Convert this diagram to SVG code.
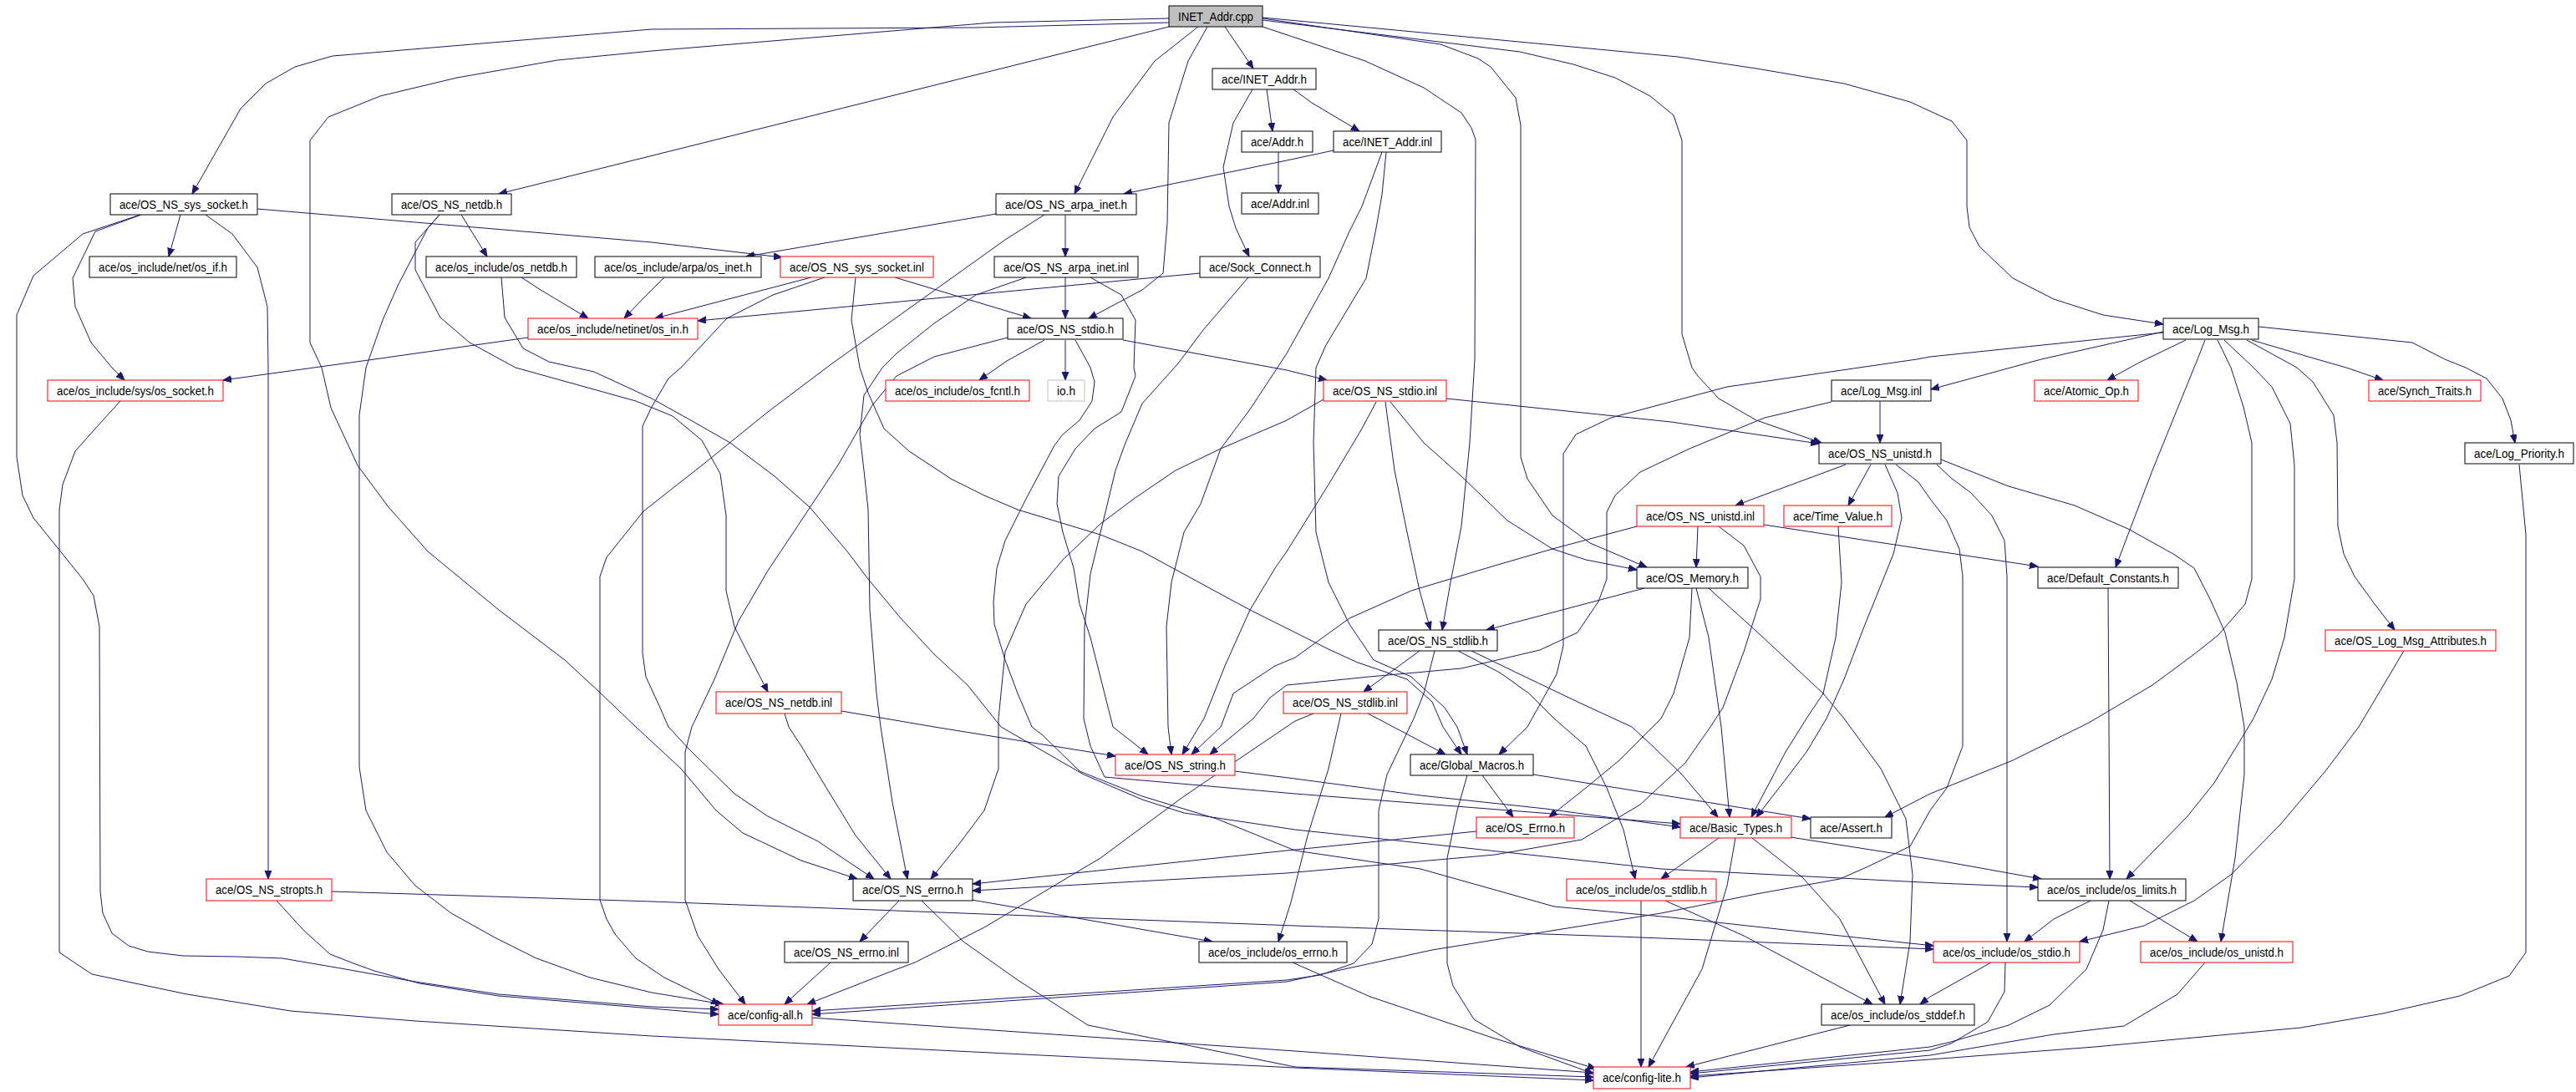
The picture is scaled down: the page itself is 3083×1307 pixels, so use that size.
<svg xmlns="http://www.w3.org/2000/svg" width="3083" height="1307" viewBox="0 0 3083 1307">
<defs>
<style>
.n rect{fill:#fff;stroke:#000;stroke-width:1}
.n.r rect{stroke:#f00}
.n.g rect{stroke:#bfbfbf}
.n.root rect{fill:#bfbfbf}
.n text{font-family:"Liberation Sans",Arial,sans-serif;font-size:14px;fill:#000;text-anchor:middle}
#edges path{fill:none;stroke:#191970;stroke-width:1;stroke-linejoin:round;marker-end:url(#arr)}
</style>
<marker id="arr" markerWidth="11" markerHeight="9" refX="10" refY="4" orient="auto" markerUnits="userSpaceOnUse"><path d="M0,0L10,4L0,8z" fill="#191970" stroke="#191970" stroke-width="1"/></marker>
</defs>
<rect width="3083" height="1307" fill="#fff"/>
<g id="edges">
<path d="M1466,32 L1500,82"/>
<path d="M1399,27 L1168,33 L780,35 L398,67 L353,80 L318,100 L288,130 L230,232"/>
<path d="M1399,22 L1188,27 L780,61 L667,72 L547,93 L455,115 L393,140 L371,168 L371,410 L385,440 L396,488 L428,557 L465,607 L512,660 L597,730 L676,790 L716,827 L761,870 L815,920 L857,970 L889,997 L959,1030 L1026,1052"/>
<path d="M1399,32 L597,232"/>
<path d="M1434,32 L1382,73 L1332,140 L1286,232"/>
<path d="M1445,32 L1422,73 L1399,147 L1397,267 L1392,327 L1367,347 L1303,381"/>
<path d="M1511,32 L1550,45 L1634,73 L1704,105 L1749,135 L1761,153 L1766,167 L1765,430 L1759,530 L1749,630 L1736,697 L1726,754"/>
<path d="M1511,22 L1724,53 L1769,70 L1784,80 L1814,117 L1820,150 L1820,547 L1828,573 L1858,617 L1903,650 L1971,679"/>
<path d="M1511,24 L1819,62 L1883,77 L1933,93 L1975,115 L2003,138 L2013,168 L2013,400 L2025,440 L2032,450 L2057,477 L2102,503 L2180,530"/>
<path d="M1511,21 L2008,68 L2102,82 L2207,100 L2286,122 L2336,145 L2354,168 L2354,247 L2357,272 L2369,295 L2409,333 L2458,358 L2517,377 L2589,388"/>
<path d="M1516,107 L1523,157"/>
<path d="M1548,107 L1570,123 L1627,157"/>
<path d="M1499,107 L1476,147 L1464,200 L1471,247 L1479,273 L1495,307"/>
<path d="M1530,182 L1530,231"/>
<path d="M1596,180 L1540,192 L1345,232"/>
<path d="M1659,182 L1654,233 L1647,273 L1635,333 L1587,413 L1575,440 L1572,530 L1575,637 L1590,697 L1615,747 L1644,790 L1689,810 L1729,847 L1744,870 L1756,903"/>
<path d="M1654,182 L1630,247 L1615,277 L1590,333 L1540,423 L1496,490 L1461,537 L1437,603 L1417,637 L1402,697 L1396,750 L1398,870 L1402,903"/>
<path d="M216,257 L202,307"/>
<path d="M308,250 L780,290 L936,308"/>
<path d="M169,257 L114,277 L87,333 L90,367 L109,410 L134,440 L149,455"/>
<path d="M168,257 L99,280 L40,330 L20,377 L20,547 L27,593 L40,620 L70,657 L99,693 L112,713 L119,750 L120,1067 L123,1093 L134,1117 L154,1132 L177,1139 L219,1144 L284,1145 L338,1147 L373,1153 L408,1159 L497,1175 L597,1190 L780,1205 L860,1208"/>
<path d="M246,257 L278,280 L308,320 L320,367 L321,440 L321,1052"/>
<path d="M552,257 L583,307"/>
<path d="M526,257 L497,290 L497,323 L527,380 L562,410 L617,440 L761,480 L805,498 L840,527 L862,567 L869,617 L869,707 L879,750 L894,780 L919,828"/>
<path d="M526,257 L512,273 L477,340 L458,383 L438,440 L430,497 L430,918 L438,970 L463,1020 L497,1060 L540,1093 L592,1122 L642,1147 L706,1170 L780,1188 L866,1202"/>
<path d="M1192,256 L893,307"/>
<path d="M1275,257 L1275,307"/>
<path d="M1250,257 L1203,287 L996,435 L919,493 L845,553 L770,612 L726,667 L718,690 L718,1077 L726,1100 L736,1118 L761,1147 L795,1170 L861,1202"/>
<path d="M971,332 L784,381"/>
<path d="M1071,332 L1234,381"/>
<path d="M987,332 L925,353 L870,381 L815,440 L800,453 L780,487 L769,510 L769,782 L773,810 L790,847 L800,870 L825,897 L879,950 L919,977 L979,1007 L1046,1052"/>
<path d="M1024,332 L1019,383 L1029,440 L1039,470 L1058,513 L1088,540 L1138,573 L1178,593 L1218,610 L1317,640 L1367,660 L1446,703 L1496,730 L1590,777 L1625,793 L1684,813 L1714,840 L1727,870 L1749,903"/>
<path d="M624,332 L647,347 L704,381"/>
<path d="M600,332 L604,380 L626,417 L657,433 L711,445 L780,477 L825,502 L874,530 L927,570 L969,607 L1014,660 L1039,693 L1078,740 L1118,783 L1158,820 L1198,870 L1297,927 L1367,957 L1417,973 L1550,993 L1988,1040 L2320,1057 L2439,1062"/>
<path d="M795,332 L770,357 L747,381"/>
<path d="M1275,332 L1275,381"/>
<path d="M1228,332 L1168,353 L1118,387 L1073,423 L1056,440 L1034,473 L1029,520 L1034,563 L1039,610 L1041,730 L1049,830 L1054,870 L1068,960 L1086,1052"/>
<path d="M1436,327 L835,384"/>
<path d="M1494,332 L1440,395 L1410,435 L1367,483 L1347,530 L1335,563 L1322,617 L1305,687 L1298,750 L1297,860 L1305,893 L1322,930 L1550,950 L2011,986"/>
<path d="M1250,407 L1205,432 L1172,455"/>
<path d="M1275,407 L1275,455"/>
<path d="M1344,407 L1540,443 L1588,455"/>
<path d="M1287,407 L1305,440 L1310,457 L1307,480 L1292,503 L1272,520 L1262,533 L1228,597 L1203,647 L1193,680 L1189,720 L1190,747 L1203,790 L1218,830 L1235,870 L1248,880 L1292,923 L1367,953 L1456,980 L1550,1018 L1700,1040 L1860,1085 L2000,1098 L2137,1113 L2314,1132"/>
<path d="M1206,404 L1118,427 L1073,450 L1044,485 L1004,555 L959,623 L919,683 L884,743 L855,813 L828,870 L820,900 L820,1077 L835,1120 L860,1160 L892,1202"/>
<path d="M2589,397 L2443,430 L2311,466"/>
<path d="M2616,407 L2560,434 L2522,455"/>
<path d="M2695,407 L2773,430 L2808,440 L2852,455"/>
<path d="M2703,391 L2887,410 L2926,430 L2951,440 L2976,453 L2995,477 L3005,503 L3010,530"/>
<path d="M2639,407 L2630,430 L2576,563 L2532,679"/>
<path d="M2654,407 L2670,440 L2685,487 L2695,530 L2695,693 L2687,723 L2655,760 L2626,783 L2576,820 L2500,865 L2409,910 L2310,950 L2256,978"/>
<path d="M2662,407 L2697,440 L2719,463 L2741,507 L2746,557 L2746,693 L2734,763 L2719,813 L2697,860 L2685,880 L2650,937 L2618,977 L2545,1052"/>
<path d="M2689,407 L2749,440 L2768,457 L2793,497 L2797,530 L2798,630 L2805,663 L2818,690 L2842,723 L2866,754"/>
<path d="M2589,398 L2310,427 L2294,430 L2067,463 L1928,500 L1886,520 L1871,543 L1871,773 L1863,807 L1843,843 L1828,870 L1794,903"/>
<path d="M2250,480 L2250,530"/>
<path d="M2192,481 L2112,500 L2022,537 L1963,565 L1933,593 L1923,613 L1923,693 L1913,720 L1888,757 L1843,778 L1749,800 L1639,810 L1540,820 L1520,835 L1500,860 L1448,903"/>
<path d="M2209,556 L2077,605"/>
<path d="M2239,556 L2212,605"/>
<path d="M2256,556 L2271,590 L2276,620 L2266,663 L2246,713 L2231,750 L2207,813 L2186,860 L2162,900 L2137,933 L2102,978"/>
<path d="M2318,556 L2335,572 L2359,590 L2384,617 L2399,647 L2402,690 L2402,1127"/>
<path d="M2323,550 L2404,582 L2483,605 L2547,633 L2601,663 L2626,680 L2645,717 L2663,757 L2677,817 L2686,870 L2686,927 L2675,1027 L2658,1127"/>
<path d="M2269,556 L2296,577 L2310,597 L2330,623 L2345,657 L2349,690 L2349,893 L2330,943 L2310,970 L2286,1013 L2236,1037 L2202,1052 L2102,1070 L1988,1093 L1838,1117 L1714,1137 L1540,1175 L972,1214"/>
<path d="M2032,630 L2030,679"/>
<path d="M2111,628 L2320,660 L2439,678"/>
<path d="M1959,630 L1858,657 L1789,677 L1689,707 L1615,740 L1550,787 L1526,797 L1476,830 L1461,870 L1426,903"/>
<path d="M2057,630 L2087,653 L2107,690 L2107,717 L2087,780 L2062,847 L2047,870 L2017,913 L1963,963 L1893,1005 L1789,1023 L1540,1045 L1164,1066"/>
<path d="M2200,630 L2204,697 L2197,763 L2182,830 L2162,860 L2137,900 L2096,978"/>
<path d="M1968,704 L1779,754"/>
<path d="M2030,704 L2045,763 L2060,870 L2070,978"/>
<path d="M2025,704 L2022,763 L2003,830 L1988,860 L1938,910 L1898,943 L1854,978"/>
<path d="M2045,704 L2107,760 L2182,830 L2207,860 L2251,920 L2281,980 L2289,1047 L2286,1127 L2274,1202"/>
<path d="M1699,779 L1632,828"/>
<path d="M1761,779 L1819,807 L1888,840 L1953,870 L1978,893 L2013,927 L2056,978"/>
<path d="M1745,779 L1795,805 L1830,830 L1860,860 L1898,893 L1923,943 L1943,993 L1957,1052"/>
<path d="M1717,779 L1704,830 L1692,860 L1660,927 L1650,970 L1650,1100 L1642,1130 L1620,1153 L1580,1167 L1540,1173 L972,1210"/>
<path d="M2877,779 L2823,870 L2783,923 L2729,987 L2670,1047 L2626,1078 L2566,1108 L2489,1127"/>
<path d="M2523,704 L2524,870 L2525,1052"/>
<path d="M3015,556 L3023,640 L3023,1140 L3003,1168 L2944,1192 L2852,1213 L2754,1230 L2507,1253 L2310,1268 L2023,1288"/>
<path d="M939,854 L944,870 L959,893 L989,943 L1024,1000 L1066,1052"/>
<path d="M1007,851 L1118,870 L1335,905"/>
<path d="M1572,854 L1550,863 L1417,953 L1317,1027 L1178,1110 L1095,1152 L1068,1162 L966,1202"/>
<path d="M1605,854 L1590,920 L1565,1000 L1545,1080 L1530,1127"/>
<path d="M1637,854 L1660,866 L1730,903"/>
<path d="M1478,923 L1550,932 L1700,952 L1850,968 L2011,990"/>
<path d="M1774,928 L1811,978"/>
<path d="M1835,927 L2167,980"/>
<path d="M1756,928 L1744,970 L1732,1027 L1732,1153 L1739,1180 L1764,1220 L1819,1253 L1907,1285"/>
<path d="M1767,995 L1540,1018 L1164,1058"/>
<path d="M2057,1003 L1988,1052"/>
<path d="M2143,1002 L2315,1029 L2443,1052"/>
<path d="M2097,1003 L2157,1050 L2202,1100 L2256,1202"/>
<path d="M2077,1003 L2067,1060 L2037,1160 L1973,1277"/>
<path d="M1076,1078 L1029,1127"/>
<path d="M1163,1077 L1451,1127"/>
<path d="M1103,1078 L1153,1127 L1218,1173 L1302,1227 L1550,1277 L1907,1289"/>
<path d="M994,1152 L939,1202"/>
<path d="M1547,1152 L1640,1193 L1789,1243 L1910,1279"/>
<path d="M331,1078 L363,1113 L395,1142 L423,1153 L448,1162 L502,1177 L597,1192 L780,1207 L860,1214"/>
<path d="M397,1067 L780,1079 L1550,1108 L1938,1121 L2314,1136"/>
<path d="M2502,1078 L2458,1100 L2423,1127"/>
<path d="M2549,1078 L2630,1127"/>
<path d="M2524,1078 L2517,1113 L2497,1160 L2453,1203 L2404,1227 L2335,1247 L2310,1253 L2023,1283"/>
<path d="M2383,1152 L2310,1193 L2298,1202"/>
<path d="M2400,1152 L2399,1187 L2379,1223 L2335,1249 L2310,1257 L2023,1285"/>
<path d="M2639,1152 L2606,1190 L2542,1228 L2458,1238 L2310,1263 L2023,1290"/>
<path d="M2214,1227 L2018,1277"/>
<path d="M971,1218 L1550,1258 L1907,1284"/>
<path d="M1964,1078 L1964,1277"/>
<path d="M1993,1078 L2087,1120 L2241,1202"/>
<path d="M144,480 L114,513 L90,540 L75,580 L71,610 L71,1140 L110,1166 L224,1190 L348,1210 L497,1222 L780,1240 L1550,1278 L1907,1293"/>
<path d="M632,404 L448,430 L267,455"/>
<path d="M1731,477 L2000,505 L2177,531"/>
<path d="M1664,481 L1704,530 L1749,570 L1804,623 L1858,657 L1898,670 L1959,682"/>
<path d="M1658,481 L1669,563 L1684,637 L1699,707 L1712,754"/>
<path d="M1647,481 L1630,513 L1590,580 L1540,660 L1526,680 L1496,730 L1466,797 L1441,860 L1415,903"/>
<path d="M1584,478 L1540,503 L1461,537 L1407,563 L1357,597 L1317,627 L1272,670 L1228,723 L1203,780 L1195,860 L1195,920 L1178,970 L1148,1010 L1114,1052"/>
<path d="M1305,332 L1342,353 L1359,383 L1357,440 L1359,450 L1342,493 L1310,513 L1287,537 L1267,570 L1265,603 L1272,637 L1285,680 L1292,723 L1305,763 L1332,870 L1374,903"/>
</g>
<g id="n-A" class="n root"><rect x="1399" y="7" width="112" height="25"/><text x="1455" y="25" textLength="90" lengthAdjust="spacingAndGlyphs">INET_Addr.cpp</text></g>
<g id="n-B" class="n"><rect x="1451" y="82" width="124" height="25"/><text x="1513" y="100" textLength="102" lengthAdjust="spacingAndGlyphs">ace/INET_Addr.h</text></g>
<g id="n-C" class="n"><rect x="1486" y="157" width="85" height="25"/><text x="1528.5" y="175" textLength="63" lengthAdjust="spacingAndGlyphs">ace/Addr.h</text></g>
<g id="n-D" class="n"><rect x="1486" y="231" width="92" height="25"/><text x="1532" y="249" textLength="70" lengthAdjust="spacingAndGlyphs">ace/Addr.inl</text></g>
<g id="n-E" class="n"><rect x="1596" y="157" width="129" height="25"/><text x="1660.5" y="175" textLength="107" lengthAdjust="spacingAndGlyphs">ace/INET_Addr.inl</text></g>
<g id="n-F" class="n"><rect x="132" y="232" width="176" height="25"/><text x="220" y="250" textLength="154" lengthAdjust="spacingAndGlyphs">ace/OS_NS_sys_socket.h</text></g>
<g id="n-G" class="n"><rect x="469" y="232" width="143" height="25"/><text x="540.5" y="250" textLength="121" lengthAdjust="spacingAndGlyphs">ace/OS_NS_netdb.h</text></g>
<g id="n-H" class="n"><rect x="1192" y="232" width="168" height="25"/><text x="1276" y="250" textLength="146" lengthAdjust="spacingAndGlyphs">ace/OS_NS_arpa_inet.h</text></g>
<g id="n-I" class="n"><rect x="107" y="307" width="176" height="25"/><text x="195" y="325" textLength="154" lengthAdjust="spacingAndGlyphs">ace/os_include/net/os_if.h</text></g>
<g id="n-J" class="n"><rect x="510" y="307" width="180" height="25"/><text x="600" y="325" textLength="158" lengthAdjust="spacingAndGlyphs">ace/os_include/os_netdb.h</text></g>
<g id="n-K" class="n"><rect x="712" y="307" width="199" height="25"/><text x="811.5" y="325" textLength="177" lengthAdjust="spacingAndGlyphs">ace/os_include/arpa/os_inet.h</text></g>
<g id="n-L" class="n r"><rect x="934" y="307" width="183" height="25"/><text x="1025.5" y="325" textLength="161" lengthAdjust="spacingAndGlyphs">ace/OS_NS_sys_socket.inl</text></g>
<g id="n-M" class="n"><rect x="1190" y="307" width="172" height="25"/><text x="1276" y="325" textLength="150" lengthAdjust="spacingAndGlyphs">ace/OS_NS_arpa_inet.inl</text></g>
<g id="n-N" class="n"><rect x="1436" y="307" width="144" height="25"/><text x="1508" y="325" textLength="122" lengthAdjust="spacingAndGlyphs">ace/Sock_Connect.h</text></g>
<g id="n-O" class="n r"><rect x="632" y="381" width="203" height="25"/><text x="733.5" y="399" textLength="181" lengthAdjust="spacingAndGlyphs">ace/os_include/netinet/os_in.h</text></g>
<g id="n-P" class="n"><rect x="1206" y="381" width="138" height="25"/><text x="1275" y="399" textLength="116" lengthAdjust="spacingAndGlyphs">ace/OS_NS_stdio.h</text></g>
<g id="n-Q" class="n"><rect x="2589" y="381" width="114" height="25"/><text x="2646" y="399" textLength="92" lengthAdjust="spacingAndGlyphs">ace/Log_Msg.h</text></g>
<g id="n-R" class="n r"><rect x="57" y="455" width="210" height="25"/><text x="162" y="473" textLength="188" lengthAdjust="spacingAndGlyphs">ace/os_include/sys/os_socket.h</text></g>
<g id="n-S" class="n r"><rect x="1060" y="455" width="172" height="25"/><text x="1146" y="473" textLength="150" lengthAdjust="spacingAndGlyphs">ace/os_include/os_fcntl.h</text></g>
<g id="n-T" class="n g"><rect x="1254" y="455" width="44" height="25"/><text x="1276" y="473" textLength="22" lengthAdjust="spacingAndGlyphs">io.h</text></g>
<g id="n-U" class="n r"><rect x="1584" y="455" width="147" height="25"/><text x="1657.5" y="473" textLength="125" lengthAdjust="spacingAndGlyphs">ace/OS_NS_stdio.inl</text></g>
<g id="n-V" class="n"><rect x="2192" y="455" width="119" height="25"/><text x="2251.5" y="473" textLength="97" lengthAdjust="spacingAndGlyphs">ace/Log_Msg.inl</text></g>
<g id="n-W" class="n r"><rect x="2435" y="455" width="124" height="25"/><text x="2497" y="473" textLength="102" lengthAdjust="spacingAndGlyphs">ace/Atomic_Op.h</text></g>
<g id="n-X" class="n r"><rect x="2835" y="455" width="134" height="25"/><text x="2902" y="473" textLength="112" lengthAdjust="spacingAndGlyphs">ace/Synch_Traits.h</text></g>
<g id="n-Y" class="n"><rect x="2177" y="530" width="146" height="25"/><text x="2250" y="548" textLength="124" lengthAdjust="spacingAndGlyphs">ace/OS_NS_unistd.h</text></g>
<g id="n-Z" class="n"><rect x="2950" y="530" width="130" height="25"/><text x="3015" y="548" textLength="108" lengthAdjust="spacingAndGlyphs">ace/Log_Priority.h</text></g>
<g id="n-AA" class="n r"><rect x="1959" y="605" width="152" height="25"/><text x="2035" y="623" textLength="130" lengthAdjust="spacingAndGlyphs">ace/OS_NS_unistd.inl</text></g>
<g id="n-AB" class="n r"><rect x="2135" y="605" width="129" height="25"/><text x="2199.5" y="623" textLength="107" lengthAdjust="spacingAndGlyphs">ace/Time_Value.h</text></g>
<g id="n-AC" class="n"><rect x="1959" y="679" width="133" height="25"/><text x="2025.5" y="697" textLength="111" lengthAdjust="spacingAndGlyphs">ace/OS_Memory.h</text></g>
<g id="n-AD" class="n"><rect x="2439" y="679" width="168" height="25"/><text x="2523" y="697" textLength="146" lengthAdjust="spacingAndGlyphs">ace/Default_Constants.h</text></g>
<g id="n-AE" class="n"><rect x="1650" y="754" width="142" height="25"/><text x="1721" y="772" textLength="120" lengthAdjust="spacingAndGlyphs">ace/OS_NS_stdlib.h</text></g>
<g id="n-AF" class="n r"><rect x="2783" y="754" width="204" height="25"/><text x="2885" y="772" textLength="182" lengthAdjust="spacingAndGlyphs">ace/OS_Log_Msg_Attributes.h</text></g>
<g id="n-AG" class="n r"><rect x="857" y="828" width="150" height="26"/><text x="932" y="846" textLength="128" lengthAdjust="spacingAndGlyphs">ace/OS_NS_netdb.inl</text></g>
<g id="n-AH" class="n r"><rect x="1536" y="828" width="148" height="26"/><text x="1610" y="846" textLength="126" lengthAdjust="spacingAndGlyphs">ace/OS_NS_stdlib.inl</text></g>
<g id="n-AI" class="n r"><rect x="1335" y="903" width="143" height="25"/><text x="1406.5" y="921" textLength="121" lengthAdjust="spacingAndGlyphs">ace/OS_NS_string.h</text></g>
<g id="n-AJ" class="n"><rect x="1688" y="903" width="147" height="25"/><text x="1761.5" y="921" textLength="125" lengthAdjust="spacingAndGlyphs">ace/Global_Macros.h</text></g>
<g id="n-AK" class="n r"><rect x="1767" y="978" width="117" height="25"/><text x="1825.5" y="996" textLength="95" lengthAdjust="spacingAndGlyphs">ace/OS_Errno.h</text></g>
<g id="n-AL" class="n r"><rect x="2011" y="978" width="133" height="25"/><text x="2077.5" y="996" textLength="111" lengthAdjust="spacingAndGlyphs">ace/Basic_Types.h</text></g>
<g id="n-AM" class="n"><rect x="2167" y="978" width="97" height="25"/><text x="2215.5" y="996" textLength="75" lengthAdjust="spacingAndGlyphs">ace/Assert.h</text></g>
<g id="n-AN" class="n r"><rect x="247" y="1052" width="150" height="26"/><text x="322" y="1070" textLength="128" lengthAdjust="spacingAndGlyphs">ace/OS_NS_stropts.h</text></g>
<g id="n-AO" class="n"><rect x="1021" y="1052" width="143" height="26"/><text x="1092.5" y="1070" textLength="121" lengthAdjust="spacingAndGlyphs">ace/OS_NS_errno.h</text></g>
<g id="n-AP" class="n r"><rect x="1875" y="1052" width="179" height="26"/><text x="1964.5" y="1070" textLength="157" lengthAdjust="spacingAndGlyphs">ace/os_include/os_stdlib.h</text></g>
<g id="n-AQ" class="n"><rect x="2439" y="1052" width="177" height="26"/><text x="2527.5" y="1070" textLength="155" lengthAdjust="spacingAndGlyphs">ace/os_include/os_limits.h</text></g>
<g id="n-AR" class="n"><rect x="939" y="1127" width="148" height="25"/><text x="1013" y="1145" textLength="126" lengthAdjust="spacingAndGlyphs">ace/OS_NS_errno.inl</text></g>
<g id="n-AS" class="n"><rect x="1435" y="1127" width="177" height="25"/><text x="1523.5" y="1145" textLength="155" lengthAdjust="spacingAndGlyphs">ace/os_include/os_errno.h</text></g>
<g id="n-AT" class="n r"><rect x="2314" y="1127" width="175" height="25"/><text x="2401.5" y="1145" textLength="153" lengthAdjust="spacingAndGlyphs">ace/os_include/os_stdio.h</text></g>
<g id="n-AU" class="n r"><rect x="2562" y="1127" width="182" height="25"/><text x="2653" y="1145" textLength="160" lengthAdjust="spacingAndGlyphs">ace/os_include/os_unistd.h</text></g>
<g id="n-AV" class="n r"><rect x="860" y="1202" width="112" height="25"/><text x="916" y="1220" textLength="90" lengthAdjust="spacingAndGlyphs">ace/config-all.h</text></g>
<g id="n-AW" class="n"><rect x="2180" y="1202" width="183" height="25"/><text x="2271.5" y="1220" textLength="161" lengthAdjust="spacingAndGlyphs">ace/os_include/os_stddef.h</text></g>
<g id="n-AX" class="n r"><rect x="1907" y="1277" width="116" height="26"/><text x="1965" y="1295" textLength="94" lengthAdjust="spacingAndGlyphs">ace/config-lite.h</text></g>
</svg>
